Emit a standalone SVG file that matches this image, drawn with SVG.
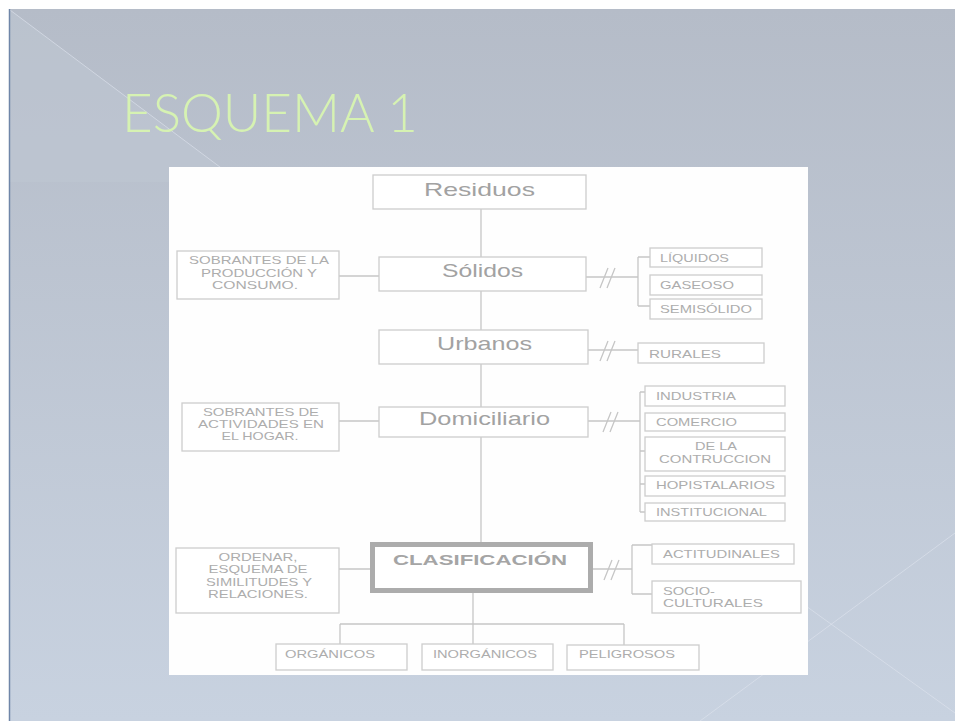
<svg xmlns="http://www.w3.org/2000/svg" width="955" height="721" viewBox="0 0 955 721">
<defs>
<linearGradient id="bg" x1="0" y1="0" x2="0" y2="1">
<stop offset="0" stop-color="#b5bcc8"/>
<stop offset="1" stop-color="#c8d2e0"/>
</linearGradient>
<style>
.box{fill:#fff;stroke:#cdcdcd;stroke-width:1.3}
.ln{fill:none;stroke:#c6c6c6;stroke-width:1.3}
.big{font-family:"Liberation Sans",Arial,sans-serif;font-size:19px;fill:#a2a2a2}
.sm{font-family:"Liberation Sans",Arial,sans-serif;font-size:10.5px;fill:#adadad}
.smc{font-family:"Liberation Sans",Arial,sans-serif;font-size:10.5px;fill:#adadad;text-anchor:middle}
.deco{stroke:#dfe5ee;stroke-width:1;opacity:0.6;fill:none}
</style>
</defs>
<rect width="955" height="721" fill="#fff"/>
<rect x="9" y="9" width="946" height="712" fill="url(#bg)"/>
<polygon points="9,9 240,182 9,182" fill="#bec6d2" opacity="0.6"/>
<line class="deco" x1="10" y1="10" x2="240" y2="182"/>
<line class="deco" x1="700" y1="721" x2="955" y2="533"/>
<line class="deco" x1="700" y1="530" x2="955" y2="713"/>
<line x1="9.5" y1="9" x2="9.5" y2="721" stroke="#6f86a8" stroke-width="1.5"/>
<text x="122" y="132" font-family="Lato,'Open Sans','DejaVu Sans',sans-serif" font-weight="300" font-size="54" fill="#d6f2b2" textLength="296" lengthAdjust="spacingAndGlyphs">ESQUEMA 1</text>
<rect x="169" y="167" width="639" height="508" fill="#fefefe"/>

<g id="connectors">
<path class="ln" d="M481,209V257 M481,291V330 M481,364V407 M481,437V542"/>
<path class="ln" d="M339,276H379 M586,277H638 M638,257V306 M638,257H650 M638,306H650"/>
<path class="ln" d="M600,288l8,-20 M607,288l8,-20"/>
<path class="ln" d="M588,350H638"/>
<path class="ln" d="M600,361l8,-20 M607,361l8,-20"/>
<path class="ln" d="M339,421H379 M588,421H640 M640,392V512 M640,392H645 M640,451H645 M640,484H645 M640,512H645"/>
<path class="ln" d="M603,432l8,-20 M610,432l8,-20"/>
<path class="ln" d="M339,569H370 M593,569H632 M632,545V594 M632,545H652 M632,594H652"/>
<path class="ln" d="M604,580l8,-20 M611,580l8,-20"/>
<path class="ln" d="M473,593V644 M340,624H624 M340,624V644 M624,624V645"/>
</g>

<g id="residuos"><rect class="box" x="373" y="175" width="213" height="34"/><text class="big" x="424" y="196" textLength="111" lengthAdjust="spacingAndGlyphs">Residuos</text></g>
<g id="solidos"><rect class="box" x="379" y="257" width="207" height="34"/><text class="big" x="442" y="277" textLength="81" lengthAdjust="spacingAndGlyphs">Sólidos</text></g>
<g id="urbanos"><rect class="box" x="379" y="330" width="209" height="34"/><text class="big" x="437" y="350" textLength="95" lengthAdjust="spacingAndGlyphs">Urbanos</text></g>
<g id="domiciliario"><rect class="box" x="379" y="407" width="209" height="30"/><text class="big" x="419" y="425" textLength="131" lengthAdjust="spacingAndGlyphs">Domiciliario</text></g>
<g id="clasificacion"><rect x="372.5" y="544.5" width="218" height="46" fill="#fff" stroke="#acacac" stroke-width="5"/><text x="393" y="565" font-family="'Liberation Sans',Arial,sans-serif" font-size="14" font-weight="bold" fill="#a5a5a5" textLength="174" lengthAdjust="spacingAndGlyphs">CLASIFICACIÓN</text></g>

<g id="sobrantes1"><rect class="box" x="177" y="251" width="162" height="48"/>
<text class="smc" x="259" y="264" textLength="140" lengthAdjust="spacingAndGlyphs">SOBRANTES DE LA</text>
<text class="smc" x="259" y="277" textLength="116" lengthAdjust="spacingAndGlyphs">PRODUCCIÓN Y</text>
<text class="smc" x="255" y="289" textLength="86" lengthAdjust="spacingAndGlyphs">CONSUMO.</text></g>
<g id="sobrantes2"><rect class="box" x="182" y="403" width="157" height="48"/>
<text class="smc" x="261" y="416" textLength="116" lengthAdjust="spacingAndGlyphs">SOBRANTES DE</text>
<text class="smc" x="261" y="428" textLength="126" lengthAdjust="spacingAndGlyphs">ACTIVIDADES EN</text>
<text class="smc" x="260" y="440" textLength="77" lengthAdjust="spacingAndGlyphs">EL HOGAR.</text></g>
<g id="ordenar"><rect class="box" x="176" y="548" width="163" height="65"/>
<text class="smc" x="258" y="561" textLength="79" lengthAdjust="spacingAndGlyphs">ORDENAR,</text>
<text class="smc" x="258" y="573" textLength="99" lengthAdjust="spacingAndGlyphs">ESQUEMA DE</text>
<text class="smc" x="259" y="586" textLength="106" lengthAdjust="spacingAndGlyphs">SIMILITUDES Y</text>
<text class="smc" x="258" y="598" textLength="100" lengthAdjust="spacingAndGlyphs">RELACIONES.</text></g>

<g id="liquidos"><rect class="box" x="650" y="248" width="112" height="19"/><text class="sm" x="660" y="262" textLength="69" lengthAdjust="spacingAndGlyphs">LÍQUIDOS</text></g>
<g id="gaseoso"><rect class="box" x="650" y="275" width="112" height="20"/><text class="sm" x="660" y="289" textLength="74" lengthAdjust="spacingAndGlyphs">GASEOSO</text></g>
<g id="semisolido"><rect class="box" x="650" y="299" width="112" height="20"/><text class="sm" x="660" y="313" textLength="92" lengthAdjust="spacingAndGlyphs">SEMISÓLIDO</text></g>
<g id="rurales"><rect class="box" x="638" y="343" width="126" height="20"/><text class="sm" x="649" y="358" textLength="72" lengthAdjust="spacingAndGlyphs">RURALES</text></g>
<g id="industria"><rect class="box" x="645" y="386" width="140" height="20"/><text class="sm" x="656" y="400" textLength="80" lengthAdjust="spacingAndGlyphs">INDUSTRIA</text></g>
<g id="comercio"><rect class="box" x="645" y="413" width="140" height="18"/><text class="sm" x="656" y="426" textLength="81" lengthAdjust="spacingAndGlyphs">COMERCIO</text></g>
<g id="construccion"><rect class="box" x="645" y="437" width="140" height="34"/><text class="smc" x="716" y="450" textLength="42" lengthAdjust="spacingAndGlyphs">DE LA</text><text class="smc" x="715" y="463" textLength="112" lengthAdjust="spacingAndGlyphs">CONTRUCCION</text></g>
<g id="hospitalarios"><rect class="box" x="645" y="476" width="140" height="20"/><text class="sm" x="656" y="489" textLength="119" lengthAdjust="spacingAndGlyphs">HOPISTALARIOS</text></g>
<g id="institucional"><rect class="box" x="645" y="503" width="140" height="18"/><text class="sm" x="656" y="516" textLength="111" lengthAdjust="spacingAndGlyphs">INSTITUCIONAL</text></g>
<g id="actitudinales"><rect class="box" x="652" y="544" width="142" height="20"/><text class="sm" x="663" y="558" textLength="117" lengthAdjust="spacingAndGlyphs">ACTITUDINALES</text></g>
<g id="socioculturales"><rect class="box" x="652" y="581" width="149" height="32"/><text class="sm" x="663" y="595" textLength="52" lengthAdjust="spacingAndGlyphs">SOCIO-</text><text class="sm" x="663" y="607" textLength="100" lengthAdjust="spacingAndGlyphs">CULTURALES</text></g>
<g id="organicos"><rect class="box" x="276" y="644" width="131" height="26"/><text class="sm" x="285" y="658" textLength="90" lengthAdjust="spacingAndGlyphs">ORGÁNICOS</text></g>
<g id="inorganicos"><rect class="box" x="422" y="644" width="131" height="26"/><text class="sm" x="433" y="658" textLength="104" lengthAdjust="spacingAndGlyphs">INORGÁNICOS</text></g>
<g id="peligrosos"><rect class="box" x="567" y="645" width="132" height="25"/><text class="sm" x="579" y="658" textLength="96" lengthAdjust="spacingAndGlyphs">PELIGROSOS</text></g>
</svg>
